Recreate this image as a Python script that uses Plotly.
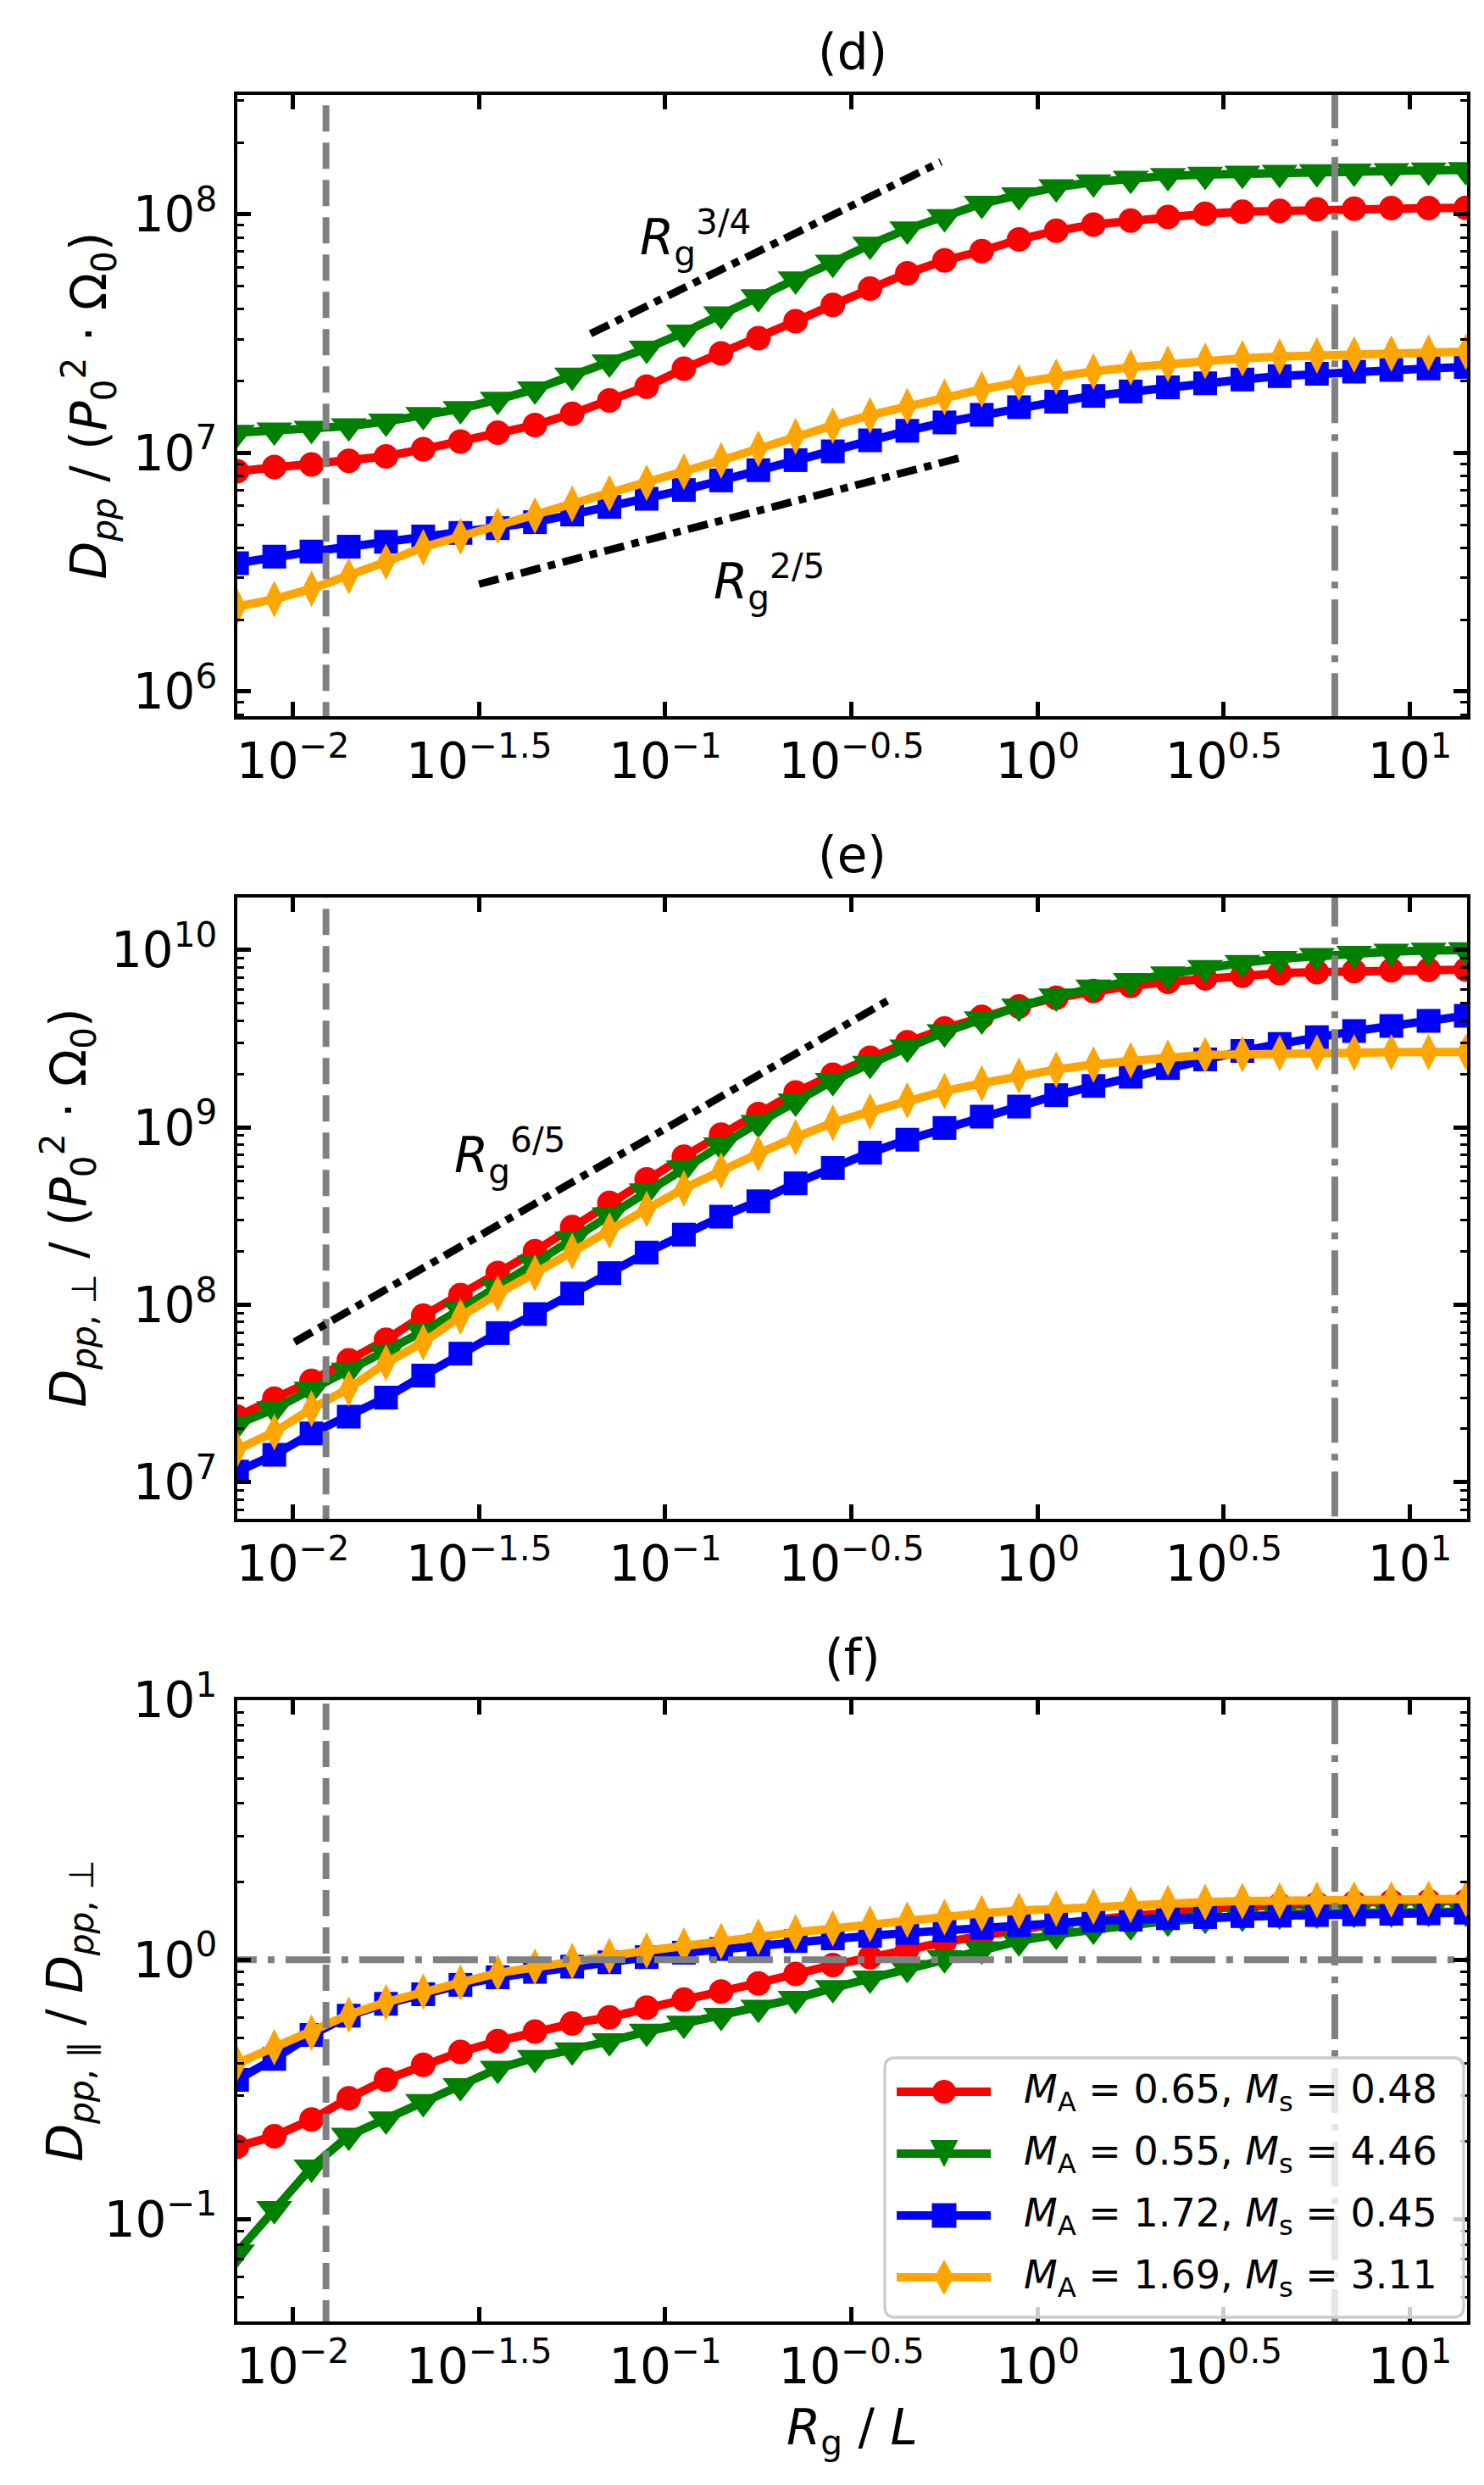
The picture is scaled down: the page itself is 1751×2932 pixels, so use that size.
import math
import plotly.graph_objects as go

FONT = "DejaVu Sans"
W, H = 1751, 2932

# ---------------- data ----------------
x_rg = [0.007079, 0.008913, 0.011220, 0.014125, 0.017783, 0.022387, 0.028184, 0.035481,
        0.044668, 0.056234, 0.070795, 0.089125, 0.11220, 0.14125, 0.17783, 0.22387,
        0.28184, 0.35481, 0.44668, 0.56234, 0.70795, 0.89125, 1.1220, 1.4125,
        1.7783, 2.2387, 2.8184, 3.5481, 4.4668, 5.6234, 7.0795, 8.9125, 11.220, 14.125]

mach_A = ["0.65", "0.55", "1.72", "1.69"]
mach_s = ["0.48", "4.46", "0.45", "3.11"]

# panel (d): D_pp
dpp_red = [8.39e6, 8.73e6, 8.95e6, 9.27e6, 9.68e6, 1.038e7, 1.117e7, 1.216e7, 1.309e7, 1.459e7,
           1.660e7, 1.897e7, 2.254e7, 2.612e7, 3.027e7, 3.565e7, 4.178e7, 4.887e7, 5.662e7, 6.412e7,
           7.015e7, 7.852e7, 8.531e7, 9.057e7, 9.419e7, 9.750e7, 1.005e8, 1.026e8, 1.035e8, 1.050e8,
           1.057e8, 1.062e8, 1.062e8, 1.064e8]
dpp_green = [1.216e7, 1.245e7, 1.265e7, 1.297e7, 1.355e7, 1.445e7, 1.531e7, 1.675e7, 1.849e7, 2.113e7,
             2.399e7, 2.742e7, 3.199e7, 3.819e7, 4.498e7, 5.346e7, 6.281e7, 7.482e7, 8.670e7, 9.750e7,
             1.109e8, 1.205e8, 1.300e8, 1.365e8, 1.413e8, 1.449e8, 1.469e8, 1.483e8, 1.496e8, 1.503e8,
             1.514e8, 1.521e8, 1.528e8, 1.535e8]
dpp_blue = [3.451e6, 3.681e6, 3.864e6, 4.046e6, 4.246e6, 4.467e6, 4.624e6, 4.842e6, 5.129e6, 5.521e6,
            5.943e6, 6.427e6, 6.998e6, 7.674e6, 8.472e6, 9.333e6, 1.016e7, 1.130e7, 1.239e7, 1.343e7,
            1.445e7, 1.556e7, 1.641e7, 1.734e7, 1.811e7, 1.884e7, 1.959e7, 2.032e7, 2.099e7, 2.148e7,
            2.193e7, 2.228e7, 2.259e7, 2.291e7]
dpp_orange = [2.270e6, 2.443e6, 2.698e6, 3.048e6, 3.499e6, 4.027e6, 4.467e6, 4.955e6, 5.470e6, 6.124e6,
              6.776e6, 7.516e6, 8.356e6, 9.311e6, 1.042e7, 1.175e7, 1.303e7, 1.439e7, 1.570e7, 1.718e7,
              1.849e7, 1.972e7, 2.089e7, 2.198e7, 2.286e7, 2.366e7, 2.432e7, 2.495e7, 2.535e7, 2.564e7,
              2.588e7, 2.612e7, 2.636e7, 2.655e7]

# panel (e): D_pp,perp
dperp_red = [2.344e7, 2.958e7, 3.733e7, 4.875e7, 6.353e7, 8.690e7, 1.135e8, 1.510e8, 2.009e8, 2.748e8,
             3.758e8, 5.105e8, 6.839e8, 9.120e8, 1.189e9, 1.574e9, 1.986e9, 2.472e9, 3.020e9, 3.614e9,
             4.207e9, 4.808e9, 5.383e9, 5.875e9, 6.281e9, 6.622e9, 6.934e9, 7.161e9, 7.413e9, 7.516e9,
             7.621e9, 7.691e9, 7.745e9, 7.762e9]
dperp_green = [2.123e7, 2.588e7, 3.334e7, 4.266e7, 5.383e7, 7.079e7, 9.441e7, 1.259e8, 1.718e8, 2.344e8,
               3.199e8, 4.365e8, 5.888e8, 7.943e8, 1.062e9, 1.403e9, 1.832e9, 2.291e9, 2.825e9, 3.451e9,
               4.074e9, 4.808e9, 5.495e9, 6.152e9, 6.714e9, 7.311e9, 7.925e9, 8.472e9, 8.933e9, 9.290e9,
               9.550e9, 9.795e9, 9.931e9, 1.000e10]
dperp_blue = [1.148e7, 1.429e7, 1.884e7, 2.344e7, 2.999e7, 3.990e7, 5.309e7, 6.934e7, 8.872e7, 1.159e8,
              1.510e8, 1.972e8, 2.489e8, 3.141e8, 3.837e8, 4.842e8, 5.916e8, 7.211e8, 8.531e8, 9.931e8,
              1.151e9, 1.312e9, 1.521e9, 1.714e9, 1.932e9, 2.163e9, 2.421e9, 2.698e9, 2.958e9, 3.228e9,
              3.491e9, 3.733e9, 3.990e9, 4.266e9]
dperp_orange = [1.531e7, 1.919e7, 2.600e7, 3.381e7, 4.710e7, 6.152e7, 8.590e7, 1.159e8, 1.510e8, 2.009e8,
                2.624e8, 3.467e8, 4.529e8, 5.715e8, 7.129e8, 8.810e8, 1.062e9, 1.230e9, 1.422e9, 1.603e9,
                1.774e9, 1.959e9, 2.123e9, 2.265e9, 2.393e9, 2.472e9, 2.559e9, 2.588e9, 2.624e9, 2.642e9,
                2.649e9, 2.655e9, 2.661e9, 2.661e9]

# panel (f): D_pp,par / D_pp,perp
ratio_red = [0.1905, 0.2089, 0.2421, 0.2924, 0.3451, 0.3936, 0.4416, 0.4853, 0.5284, 0.5675,
             0.5998, 0.6531, 0.7015, 0.7534, 0.8091, 0.8810, 0.9528, 1.023, 1.099, 1.169,
             1.236, 1.309, 1.374, 1.426, 1.479, 1.531, 1.567, 1.603, 1.626, 1.644,
             1.660, 1.675, 1.683, 1.683]
ratio_green = [0.0745, 0.1096, 0.1585, 0.2099, 0.2427, 0.2831, 0.3258, 0.3802, 0.4188, 0.4477,
               0.4853, 0.5284, 0.5675, 0.6081, 0.6531, 0.7079, 0.7780, 0.8472, 0.9311, 1.014,
               1.099, 1.180, 1.250, 1.309, 1.358, 1.406, 1.439, 1.466, 1.496, 1.510,
               1.517, 1.524, 1.531, 1.531]
ratio_blue = [0.3443, 0.4150, 0.5129, 0.6081, 0.6761, 0.7362, 0.7998, 0.8551, 0.8974, 0.9397,
              0.9772, 1.023, 1.064, 1.099, 1.135, 1.180, 1.208, 1.236, 1.268, 1.297,
              1.327, 1.358, 1.387, 1.413, 1.426, 1.445, 1.459, 1.472, 1.479, 1.486,
              1.496, 1.503, 1.510, 1.517]
ratio_orange = [0.3981, 0.4603, 0.5224, 0.6138, 0.6855, 0.7534, 0.8166, 0.8892, 0.9397, 0.9863,
                1.033, 1.084, 1.135, 1.180, 1.225, 1.274, 1.321, 1.374, 1.426, 1.459,
                1.510, 1.545, 1.574, 1.603, 1.626, 1.652, 1.667, 1.683, 1.690, 1.698,
                1.706, 1.706, 1.714, 1.714]

# power-law guide lines
guide34_x = [0.063, 0.55]
guide34_y = [3.16e7, 1.66e8]
guide25_x = [0.0316, 0.62]
guide25_y = [2.82e6, 9.55e6]
guide65_x = [0.0101, 0.40]
guide65_y = [6.17e7, 5.25e9]

# reference lines
x_res_line = 2 * math.pi / 512
x_box_line = 2 * math.pi
y_unity = 1.0

xtick_vals = [0.01, 10 ** -1.5, 0.1, 10 ** -0.5, 1, 10 ** 0.5, 10]
xtick_text = ["10<sup>\u22122</sup>", "10<sup>\u22121.5</sup>", "10<sup>\u22121</sup>",
              "10<sup>\u22120.5</sup>", "10<sup>0</sup>", "10<sup>0.5</sup>", "10<sup>1</sup>"]

# ---------------- styling ----------------
colors = ["#ff0000", "#008000", "#0000ff", "#ffa500"]
symbols = ["circle", "triangle-down", "square", "diamond-tall"]
msizes = [29, 37, 28, 31]
LW = 10

xdom = [271.7 / W, 1723.3 / W]
ydoms = [[0.71453, 0.96453], [0.39154, 0.64154], [0.06855, 0.31855]]
yranges = [[5.897, 8.5006], [6.794, 10.296], [-1.394, 1.0]]
ydecades = [[6, 7, 8], [7, 8, 9, 10], [-1, 0, 1]]

panels = [
    [dpp_red, dpp_green, dpp_blue, dpp_orange],
    [dperp_red, dperp_green, dperp_blue, dperp_orange],
    [ratio_red, ratio_green, ratio_blue, ratio_orange],
]
labels = ["<i>M</i><sub>A</sub> = %s, <i>M</i><sub>s</sub> = %s" % (a, s) for a, s in zip(mach_A, mach_s)]

fig = go.Figure()

for p, series in enumerate(panels):
    xa = "x" if p == 0 else "x%d" % (p + 1)
    ya = "y" if p == 0 else "y%d" % (p + 1)
    for i, vals in enumerate(series):
        fig.add_trace(go.Scatter(
            x=x_rg, y=vals, mode="lines+markers", xaxis=xa, yaxis=ya,
            line=dict(color=colors[i], width=LW),
            marker=dict(symbol=symbols[i], size=msizes[i], color=colors[i], line=dict(width=0)),
            name=labels[i], showlegend=False, hoverinfo="skip"))
    fig.add_trace(go.Scatter(x=[x_res_line, x_res_line], y=[1e-4, 1e12], mode="lines",
                             xaxis=xa, yaxis=ya, showlegend=False, hoverinfo="skip",
                             line=dict(color="#808080", width=8, dash="31px,13px")))
    fig.add_trace(go.Scatter(x=[x_box_line, x_box_line], y=[1e-4, 1e12], mode="lines",
                             xaxis=xa, yaxis=ya, showlegend=False, hoverinfo="skip",
                             line=dict(color="#808080", width=8, dash="53px,13px,8px,13px")))

fig.add_trace(go.Scatter(x=[1e-4, 1e3], y=[y_unity, y_unity], mode="lines", xaxis="x3", yaxis="y3",
                         showlegend=False, hoverinfo="skip",
                         line=dict(color="#808080", width=8, dash="53px,13px,8px,13px")))

guide_dash = "24px,9px,9px,9px"
for gx, gy, xa, ya in [(guide34_x, guide34_y, "x", "y"), (guide25_x, guide25_y, "x", "y"),
                       (guide65_x, guide65_y, "x2", "y2")]:
    fig.add_trace(go.Scatter(x=gx, y=gy, mode="lines", xaxis=xa, yaxis=ya, showlegend=False,
                             hoverinfo="skip", line=dict(color="black", width=9, dash=guide_dash)))

tickfont = dict(family=FONT, size=58, color="black")

layout = dict(
    width=W, height=H, margin=dict(l=0, r=0, t=0, b=0, autoexpand=False),
    paper_bgcolor="white", plot_bgcolor="white",
    font=dict(family=FONT, size=58, color="black"),
    showlegend=False,
)

for p in range(3):
    xk = "xaxis" if p == 0 else "xaxis%d" % (p + 1)
    yk = "yaxis" if p == 0 else "yaxis%d" % (p + 1)
    xanchor = "y" if p == 0 else "y%d" % (p + 1)
    yanchor = "x" if p == 0 else "x%d" % (p + 1)
    decs = ydecades[p]
    minor_vals = []
    for d in range(decs[0] - 1, decs[-1] + 1):
        for m in range(2, 10):
            v = m * 10 ** d
            if yranges[p][0] < math.log10(v) < yranges[p][1]:
                minor_vals.append(v)
    layout[xk] = dict(
        type="log", domain=xdom, anchor=xanchor, range=[-2.15, 1.154], automargin=False,
        tickmode="array", tickvals=xtick_vals, ticktext=xtick_text,
        ticks="inside", ticklen=17, tickwidth=5, tickcolor="black",
        showline=True, linewidth=3.5, linecolor="black", mirror="ticks",
        showgrid=False, zeroline=False, tickfont=tickfont, ticklabelstandoff=0)
    layout[yk] = dict(
        type="log", domain=ydoms[p], anchor=yanchor, range=yranges[p], automargin=False,
        tickmode="array", tickvals=[10 ** d for d in decs],
        ticktext=["10<sup>%s</sup>" % (str(d).replace("-", "\u2212")) for d in decs],
        ticks="inside", ticklen=17, tickwidth=5, tickcolor="black",
        minor=dict(ticks="inside", ticklen=9, tickwidth=2.5, tickcolor="black",
                   tickmode="array", tickvals=minor_vals, showgrid=False),
        showline=True, linewidth=3.5, linecolor="black", mirror="ticks",
        showgrid=False, zeroline=False, tickfont=tickfont, ticklabelstandoff=8)

fig.update_layout(**layout)


def px(xp):
    return xp / W


def py(yp):
    return 1 - yp / H


xc = (xdom[0] + xdom[1]) / 2
ann = []
for txt, yc in [("(d)", 54), ("(e)", 1001), ("(f)", 1948)]:
    ann.append(dict(text=txt, x=xc, y=py(yc), xref="paper", yref="paper",
                    xanchor="center", yanchor="middle", showarrow=False,
                    font=dict(family=FONT, size=58, color="black")))

ylabels = [
    ("<i>D</i><sub><i>pp</i></sub> / (<i>P</i><sub>0</sub><sup>2</sup> \u00b7 \u03a9<sub>0</sub>)", 97),
    ("<i>D</i><sub><i>pp</i>, \u22a5</sub> / (<i>P</i><sub>0</sub><sup>2</sup> \u00b7 \u03a9<sub>0</sub>)", 73),
    ("<i>D</i><sub><i>pp</i>, \u2225</sub> / <i>D</i><sub><i>pp</i>, \u22a5</sub>", 73),
]
for p, (txt, xpx) in enumerate(ylabels):
    ann.append(dict(text=txt, x=px(xpx), y=(ydoms[p][0] + ydoms[p][1]) / 2,
                    xref="paper", yref="paper", xanchor="center", yanchor="middle",
                    textangle=-90, showarrow=False,
                    font=dict(family=FONT, size=58, color="black")))

ann.append(dict(text="<i>R</i><sub>g</sub> / <i>L</i>", x=xc, y=py(2860),
                xref="paper", yref="paper", xanchor="center", yanchor="middle",
                showarrow=False, font=dict(family=FONT, size=58, color="black")))

for txt, xpx, ypx in [("<i>R</i><sub>g</sub><sup>3/4</sup>", 812, 272),
                      ("<i>R</i><sub>g</sub><sup>2/5</sup>", 899, 678),
                      ("<i>R</i><sub>g</sub><sup>6/5</sup>", 593, 1355)]:
    ann.append(dict(text=txt, x=px(xpx), y=py(ypx), xref="paper", yref="paper",
                    xanchor="center", yanchor="middle", showarrow=False,
                    font=dict(family=FONT, size=58, color="black")))

# ---------------- legend (drawn in panel f, lower right) ----------------
leg_l, leg_r, leg_t, leg_b, rad = 1036, 1719, 2420, 2726, 12
row_y = [2460, 2533, 2606, 2679]
samp_x0, samp_x1, samp_xc, text_x = 1050, 1161, 1106, 1198

shapes = []
box_path = (
    "M %f,%f L %f,%f Q %f,%f %f,%f L %f,%f Q %f,%f %f,%f L %f,%f Q %f,%f %f,%f L %f,%f Q %f,%f %f,%f Z" % (
        px(leg_l + rad), py(leg_t), px(leg_r - rad), py(leg_t),
        px(leg_r), py(leg_t), px(leg_r), py(leg_t + rad),
        px(leg_r), py(leg_b - rad),
        px(leg_r), py(leg_b), px(leg_r - rad), py(leg_b),
        px(leg_l + rad), py(leg_b),
        px(leg_l), py(leg_b), px(leg_l), py(leg_b - rad),
        px(leg_l), py(leg_t + rad),
        px(leg_l), py(leg_t), px(leg_l + rad), py(leg_t)))
shapes.append(dict(type="path", path=box_path, xref="paper", yref="paper", layer="above",
                   fillcolor="rgba(255,255,255,0.8)", line=dict(color="#cccccc", width=3.3)))

for i, yc in enumerate(row_y):
    c = colors[i]
    shapes.append(dict(type="line", xref="paper", yref="paper", layer="above",
                       x0=px(samp_x0), x1=px(samp_x1), y0=py(yc), y1=py(yc),
                       line=dict(color=c, width=LW)))
    if symbols[i] == "circle":
        shapes.append(dict(type="circle", xref="paper", yref="paper", layer="above",
                           x0=px(samp_xc - 14), x1=px(samp_xc + 14), y0=py(yc + 14), y1=py(yc - 14),
                           fillcolor=c, line=dict(width=0)))
    elif symbols[i] == "triangle-down":
        pth = "M %f,%f L %f,%f L %f,%f Z" % (px(samp_xc - 16.5), py(yc - 16), px(samp_xc + 16.5), py(yc - 16),
                                             px(samp_xc), py(yc + 16))
        shapes.append(dict(type="path", path=pth, xref="paper", yref="paper", layer="above",
                           fillcolor=c, line=dict(width=0)))
    elif symbols[i] == "square":
        shapes.append(dict(type="rect", xref="paper", yref="paper", layer="above",
                           x0=px(samp_xc - 14.5), x1=px(samp_xc + 14.5), y0=py(yc + 14.5), y1=py(yc - 14.5),
                           fillcolor=c, line=dict(width=0)))
    else:
        pth = "M %f,%f L %f,%f L %f,%f L %f,%f Z" % (px(samp_xc), py(yc - 21), px(samp_xc + 11.5), py(yc),
                                                     px(samp_xc), py(yc + 21), px(samp_xc - 11.5), py(yc))
        shapes.append(dict(type="path", path=pth, xref="paper", yref="paper", layer="above",
                           fillcolor=c, line=dict(width=0)))
    ann.append(dict(text=labels[i], x=px(text_x), y=py(yc), xref="paper", yref="paper",
                    xanchor="left", yanchor="middle", showarrow=False,
                    font=dict(family=FONT, size=46, color="black")))

fig.update_layout(annotations=ann, shapes=shapes)
fig.write_html("out.html")
